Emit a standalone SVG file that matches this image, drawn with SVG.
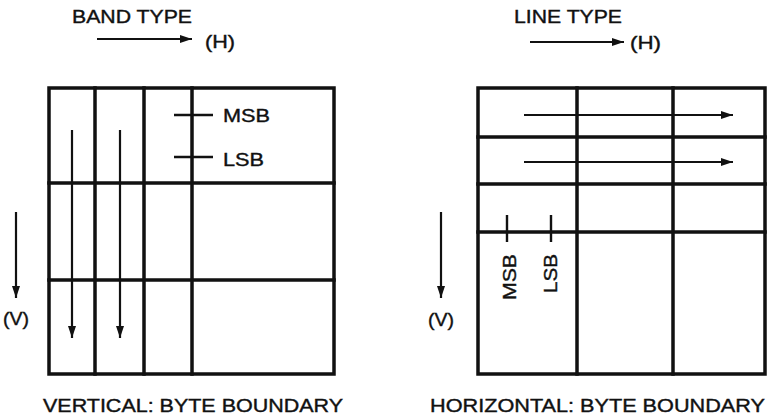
<svg xmlns="http://www.w3.org/2000/svg" width="769" height="418" viewBox="0 0 769 418">
<style>
text{font-family:"Liberation Sans",Arial,sans-serif;fill:#111;stroke:#111;stroke-width:0.4;font-size:19px}
.g{fill:none;stroke:#111;stroke-width:3.5;stroke-linecap:square}
.a{stroke:#111;stroke-width:2.2;fill:none}
.k{stroke:#111;stroke-width:2.4}
</style>
<defs>
<marker id="ah" viewBox="0 0 12 8" refX="12" refY="4" markerWidth="12" markerHeight="8" markerUnits="userSpaceOnUse" orient="auto">
<path d="M0,0L12,4L0,8z" fill="#111"/>
</marker>
</defs>
<g id="band">
<text x="72" y="23" textLength="120" lengthAdjust="spacingAndGlyphs">BAND TYPE</text>
<text x="205" y="48" textLength="30" lengthAdjust="spacingAndGlyphs">(H)</text>
<text x="3" y="325" textLength="26" lengthAdjust="spacingAndGlyphs">(V)</text>
<rect class="g" x="49" y="88" width="285" height="286"/>
<path class="g" d="M95,88V374M144,88V374M192,88V374M49,183H334M49,280H334"/>
<path class="k" d="M174,115H213M174,157H213"/>
<text x="223" y="122" textLength="47" lengthAdjust="spacingAndGlyphs">MSB</text>
<text x="223" y="166" textLength="41" lengthAdjust="spacingAndGlyphs">LSB</text>
<text x="43" y="412" textLength="300" lengthAdjust="spacingAndGlyphs">VERTICAL: BYTE BOUNDARY</text>
</g>
<g id="line">
<text x="514" y="23" textLength="108" lengthAdjust="spacingAndGlyphs">LINE TYPE</text>
<text x="630" y="49" textLength="31" lengthAdjust="spacingAndGlyphs">(H)</text>
<text x="428" y="326" textLength="26" lengthAdjust="spacingAndGlyphs">(V)</text>
<rect class="g" x="478" y="88" width="287" height="286"/>
<path class="g" d="M577,88V374M673,88V374M478,137H765M478,184H765M478,232H765"/>
<path class="k" d="M507,215V242M551,215V242"/>
<text transform="translate(516,300) rotate(-90)" textLength="46" lengthAdjust="spacingAndGlyphs">MSB</text>
<text transform="translate(557,293) rotate(-90)" textLength="39" lengthAdjust="spacingAndGlyphs">LSB</text>
<text x="430" y="412" textLength="335" lengthAdjust="spacingAndGlyphs">HORIZONTAL: BYTE BOUNDARY</text>
</g>
<g id="connectors">
<path class="a" marker-end="url(#ah)" d="M97,39H192"/>
<path class="a" marker-end="url(#ah)" d="M16,212V298"/>
<path class="a" marker-end="url(#ah)" d="M72,130V338"/>
<path class="a" marker-end="url(#ah)" d="M120,130V338"/>
<path class="a" marker-end="url(#ah)" d="M530,42H624"/>
<path class="a" marker-end="url(#ah)" d="M441,212V298"/>
<path class="a" marker-end="url(#ah)" d="M524,115H733"/>
<path class="a" marker-end="url(#ah)" d="M524,162H733"/>
</g>
</svg>
